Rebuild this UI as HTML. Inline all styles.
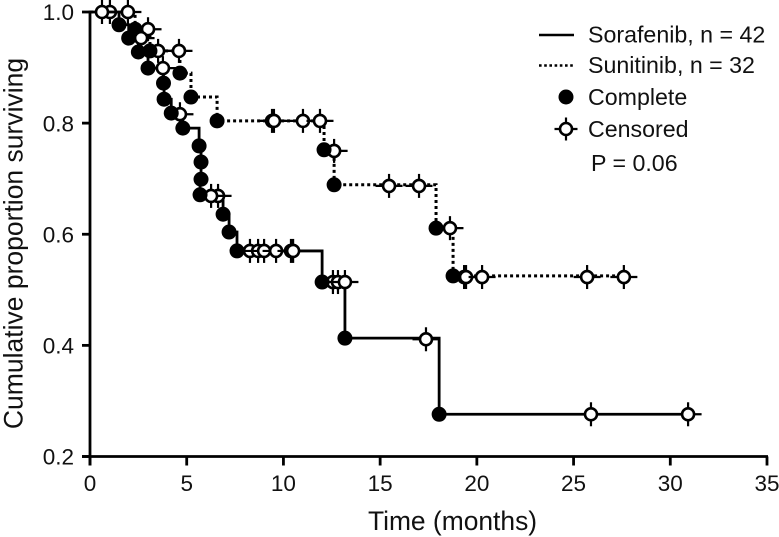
<!DOCTYPE html>
<html>
<head>
<meta charset="utf-8">
<title>Kaplan-Meier survival chart</title>
<style>
html,body{margin:0;padding:0;background:#fff;width:779px;height:537px;overflow:hidden}
svg{display:block}
text{font-family:"Liberation Sans",Arial,sans-serif;fill:#111}
</style>
</head>
<body>
<svg id="chart" width="779" height="537" viewBox="0 0 779 537" xmlns="http://www.w3.org/2000/svg">
  <g id="series-layer"></g>
  <g id="axis-layer"></g>
  <text transform="translate(22.5,243.5) rotate(-90)" text-anchor="middle" font-size="26.5">Cumulative proportion surviving</text>
  <text x="452.5" y="530" text-anchor="middle" font-size="26.4">Time (months)</text>
  <g font-size="23.2">
    <line x1="539" x2="574" y1="35" y2="35" stroke="#000" stroke-width="2.4"/>
    <text x="588" y="42.5">Sorafenib, n = 42</text>
    <line x1="539" x2="574" y1="65.5" y2="65.5" stroke="#000" stroke-width="2.4" stroke-dasharray="2.6 2.6"/>
    <text x="588" y="73">Sunitinib, n = 32</text>
    <circle cx="566" cy="97" r="7.5" fill="#000"/>
    <text x="588" y="105">Complete</text>
    <g stroke="#000" stroke-width="2.2">
      <line x1="554.5" x2="577.5" y1="129" y2="129"/>
      <line x1="566" x2="566" y1="117.5" y2="140.5"/>
      <circle cx="566" cy="129" r="6" fill="#fff" stroke-width="2.6"/>
    </g>
    <text x="588" y="137">Censored</text>
    <text x="591" y="171">P = 0.06</text>
  </g>
</svg>
<script>
const xTickValues = [0, 5, 10, 15, 20, 25, 30, 35];
const yTickValues = [0.2, 0.4, 0.6, 0.8, 1.0];
const yTickLabels = ["0.2", "0.4", "0.6", "0.8", "1.0"];

const sorafenibEventTimes = [1.5, 2.0, 2.5, 3.0, 3.8, 3.83, 4.2, 4.8, 5.64, 5.74, 5.74, 5.69, 6.88, 7.19, 7.6, 12.0, 13.18, 18.05];
const sorafenibEventSurvival = [0.977, 0.953, 0.928, 0.899, 0.872, 0.843, 0.818, 0.791, 0.759, 0.73, 0.699, 0.671, 0.636, 0.604, 0.57, 0.514, 0.413, 0.276];
const sorafenibCensoredTimes = [0.62, 2.64, 3.77, 4.65, 6.62, 6.26, 8.27, 8.69, 9.0, 9.62, 10.39, 10.5, 12.56, 12.82, 13.18, 17.37, 25.9, 30.92];
const sorafenibCensoredSurvival = [1.0, 0.953, 0.899, 0.816, 0.669, 0.669, 0.57, 0.57, 0.57, 0.57, 0.57, 0.57, 0.514, 0.514, 0.514, 0.411, 0.276, 0.276];

const sunitinibEventTimes = [2.33, 3.1, 4.65, 5.22, 6.57, 12.1, 12.62, 17.89, 18.77];
const sunitinibEventSurvival = [0.969, 0.93, 0.89, 0.847, 0.804, 0.752, 0.689, 0.611, 0.525];
const sunitinibCensoredTimes = [1.03, 1.96, 3.0, 3.52, 4.6, 9.41, 9.51, 11.01, 11.89, 12.62, 15.46, 17.01, 18.61, 19.34, 19.44, 20.27, 25.7, 27.6];
const sunitinibCensoredSurvival = [1.0, 1.0, 0.969, 0.93, 0.93, 0.804, 0.804, 0.804, 0.804, 0.75, 0.687, 0.687, 0.611, 0.523, 0.523, 0.523, 0.523, 0.523];

const NS = "http://www.w3.org/2000/svg";
const xScale = function (t) { return 90 + t * (767 - 90) / 35; };
const yScale = function (s) { return 456.5 - (s - 0.2) * (456.5 - 12) / 0.8; };
const seriesLayer = document.getElementById("series-layer");
const axisLayer = document.getElementById("axis-layer");

function make(tag, attrs, parent) {
  const el = document.createElementNS(NS, tag);
  for (const k in attrs) el.setAttribute(k, attrs[k]);
  parent.appendChild(el);
  return el;
}

function drawCurve(name, times, surv, cTimes, cSurv, dash) {
  const group = make("g", {}, seriesLayer);
  
  

  let d = "M" + xScale(0) + " " + yScale(1);
  for (let i = 0; i < times.length; i++) {
    d += "H" + xScale(times[i]) + "V" + yScale(surv[i]);
  }
  d += "H" + xScale(Math.max.apply(null, cTimes));
  const attrs = { d: d, fill: "none", stroke: "#000", "stroke-width": dash ? 3 : 2.8 };
  if (dash) attrs["stroke-dasharray"] = dash;
  const path = make("path", attrs, group);
  
  
  return group;
}

function drawCensored(group, name, cTimes, cSurv) {
  for (let i = 0; i < cTimes.length; i++) {
    const cx = xScale(cTimes[i]);
    const cy = yScale(cSurv[i]);
    const g = make("g", { stroke: "#000", "stroke-width": 2.2 }, group);
    
    
    make("line", { x1: cx - 13.5, x2: cx + 13.5, y1: cy, y2: cy }, g);
    make("line", { x1: cx, x2: cx, y1: cy - 12, y2: cy + 12 }, g);
    make("circle", { cx: cx, cy: cy, r: 6, fill: "#fff", "stroke-width": 2.6 }, g);
  }
}

function drawEvents(group, name, times, surv) {
  for (let i = 0; i < times.length; i++) {
    const c = make("circle", { cx: xScale(times[i]), cy: yScale(surv[i]), r: 7.5, fill: "#000" }, group);
    
    
  }
}

const sunGroup = drawCurve("sunitinib", sunitinibEventTimes, sunitinibEventSurvival, sunitinibCensoredTimes, sunitinibCensoredSurvival, "3 3");
const sorGroup = drawCurve("sorafenib", sorafenibEventTimes, sorafenibEventSurvival, sorafenibCensoredTimes, sorafenibCensoredSurvival, null);
drawCensored(sunGroup, "sunitinib", sunitinibCensoredTimes, sunitinibCensoredSurvival);
drawCensored(sorGroup, "sorafenib", sorafenibCensoredTimes, sorafenibCensoredSurvival);
drawEvents(sorGroup, "sorafenib", sorafenibEventTimes, sorafenibEventSurvival);
drawEvents(sunGroup, "sunitinib", sunitinibEventTimes, sunitinibEventSurvival);

const xAxisLine = make("line", { x1: xScale(0) - 8, x2: xScale(35) + 1, y1: yScale(0.2), y2: yScale(0.2), stroke: "#000", "stroke-width": 2.8 }, axisLayer);


const yAxisLine = make("line", { x1: xScale(0), x2: xScale(0), y1: yScale(1) - 1.4, y2: yScale(0.2) + 9, stroke: "#000", "stroke-width": 2.8 }, axisLayer);



xTickValues.forEach(function (v) {
  const tick = make("line", { x1: xScale(v), x2: xScale(v), y1: yScale(0.2), y2: yScale(0.2) + 9, stroke: "#000", "stroke-width": 2.8 }, axisLayer);
  
  
  const label = make("text", { x: xScale(v), y: 491, "text-anchor": "middle", "font-size": 22.5 }, axisLayer);
  label.textContent = String(v);
  
  
});

yTickValues.forEach(function (v, i) {
  const tick = make("line", { x1: xScale(0) - 8, x2: xScale(0), y1: yScale(v), y2: yScale(v), stroke: "#000", "stroke-width": 2.8 }, axisLayer);
  
  
  const label = make("text", { x: 74, y: yScale(v) + 8.2, "text-anchor": "end", "font-size": 22.5 }, axisLayer);
  label.textContent = yTickLabels[i];
  
  
});
</script>
</body>
</html>
